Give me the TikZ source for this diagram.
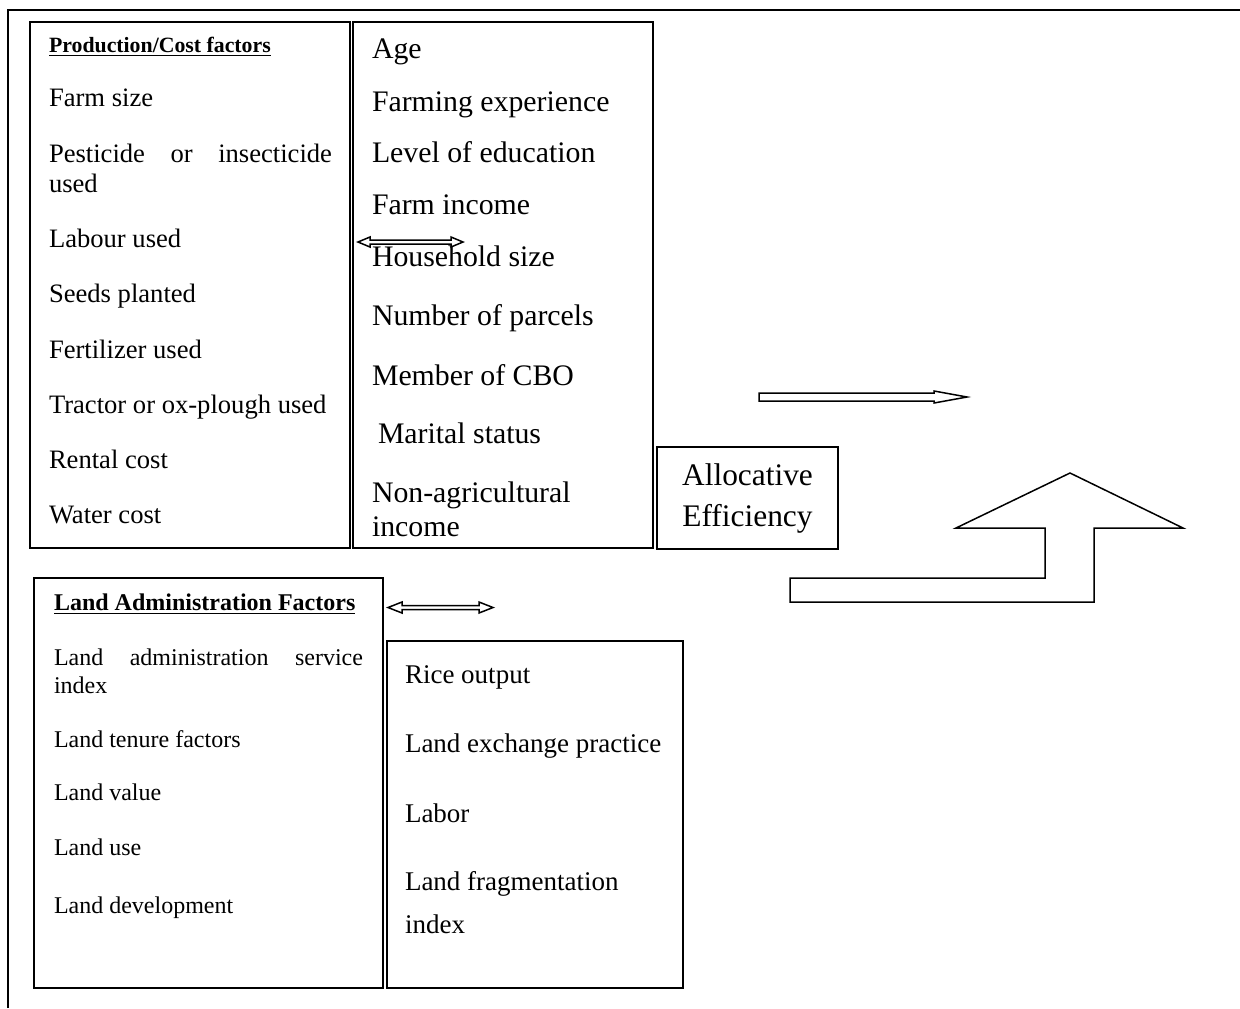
\documentclass[tikz,border=0pt]{standalone}
\usepackage{fontspec}
\setmainfont{Liberation Serif}
\begin{document}
\begin{tikzpicture}[x=0.5pt,y=-0.5pt,
  box/.style={draw, line width=0.9pt, inner sep=0pt, outer sep=0pt, anchor=north west},
  txt/.style={anchor=base west, inner sep=0pt, outer sep=0pt},
  fA/.style={font=\fontsize{13.3}{15}\selectfont},
  fAh/.style={font=\fontsize{10.9}{12}\selectfont\bfseries},
  fB/.style={font=\fontsize{14.9}{17}\selectfont},
  fC/.style={font=\fontsize{12}{14}\selectfont},
  fCh/.style={font=\fontsize{12}{14}\selectfont\bfseries},
  fD/.style={font=\fontsize{13.5}{16}\selectfont},
  blockarrow/.style={draw, line width=0.75pt, fill=white, line join=miter}]
\useasboundingbox (0,0) rectangle (1240,1008);
% outer frame (right and bottom edges fall outside)
\draw[line width=1pt] (8,1008) -- (8,10) -- (1240,10);
% boxes
\node[box, minimum width=160pt, minimum height=263pt] (A) at (30,22) {};
\node[box, minimum width=150pt, minimum height=263pt] (B) at (353,22) {};
\node[box, minimum width=90.5pt, minimum height=51pt] (E) at (657,447) {};
\node[box, minimum width=174.5pt, minimum height=205pt] (C) at (34,578) {};
\node[box, minimum width=148pt, minimum height=173.5pt] (D) at (387,641) {};
% box A texts
\node[txt, fAh] (a0) at (49,52) {\underline{Production/Cost factors}};
\node[txt, fA] (a1) at (49,106) {Farm size};
\node[txt, fA] (a2) at (49,162) {\hbox to 141.5pt{Pesticide\hfill or\hfill insecticide}};
\node[txt, fA] (a2b) at (49,192) {used};
\node[txt, fA] (a3) at (49,247) {Labour used};
\node[txt, fA] (a4) at (49,302) {Seeds planted};
\node[txt, fA] (a5) at (49,358) {Fertilizer used};
\node[txt, fA] (a6) at (49,413) {Tractor or ox-plough used};
\node[txt, fA] (a7) at (49,468) {Rental cost};
\node[txt, fA] (a8) at (49,523) {Water cost};
% box B texts
\node[txt, fB] (b1) at (372,58) {Age};
\node[txt, fB] (b2) at (372,111) {Farming experience};
\node[txt, fB] (b3) at (372,162) {Level of education};
\node[txt, fB] (b4) at (372,214) {Farm income};
\node[txt, fB] (b5) at (372,266) {Household size};
\node[txt, fB] (b6) at (372,325) {Number of parcels};
\node[txt, fB] (b7) at (372,385) {Member of CBO};
\node[txt, fB] (b8) at (378,443) {Marital status};
\node[txt, fB] (b9) at (372,502) {Non-agricultural};
\node[txt, fB] (b9b) at (372,536) {income};
% allocative efficiency
\node[align=center, inner sep=0pt, font=\fontsize{15.7}{20.5}\selectfont] (e1) at (747.5,498) {Allocative\\Efficiency};
% box C texts
\node[txt, fCh] (c0) at (54,610) {\underline{Land Administration Factors}};
\node[txt, fC] (c1) at (54,665) {\hbox to 154.5pt{Land\hfill administration\hfill service}};
\node[txt, fC] (c1b) at (54,693) {index};
\node[txt, fC] (c2) at (54,747) {Land tenure factors};
\node[txt, fC] (c3) at (54,800) {Land value};
\node[txt, fC] (c4) at (54,855) {Land use};
\node[txt, fC] (c5) at (54,913) {Land development};
% box D texts
\node[txt, fD] (d1) at (405,683) {Rice output};
\node[txt, fD] (d2) at (405,752) {Land exchange practice};
\node[txt, fD] (d3) at (405,822) {Labor};
\node[txt, fD] (d4) at (405,890) {Land fragmentation};
\node[txt, fD] (d5) at (405,933) {index};
% double arrows
\draw[blockarrow] (358,242) -- (370,237) -- (370,240) -- (451,240) -- (451,237) -- (463,242)
  -- (451,247) -- (451,244) -- (370,244) -- (370,247) -- cycle;
\draw[blockarrow] (388,607.5) -- (402,602) -- (402,605.5) -- (479,605.5) -- (479,602) -- (493,607.5)
  -- (479,613) -- (479,609.5) -- (402,609.5) -- (402,613) -- cycle;
% right arrow
\draw[blockarrow] (759,393) -- (934,393) -- (934,391) -- (967,397) -- (934,403) -- (934,401) -- (759,401) -- cycle;
% bent up arrow
\draw[blockarrow] (790,578) -- (1045,578) -- (1045,528) -- (956,528) -- (1070,473) -- (1183,528)
  -- (1094,528) -- (1094,602) -- (790,602) -- cycle;
\end{tikzpicture}
\end{document}
